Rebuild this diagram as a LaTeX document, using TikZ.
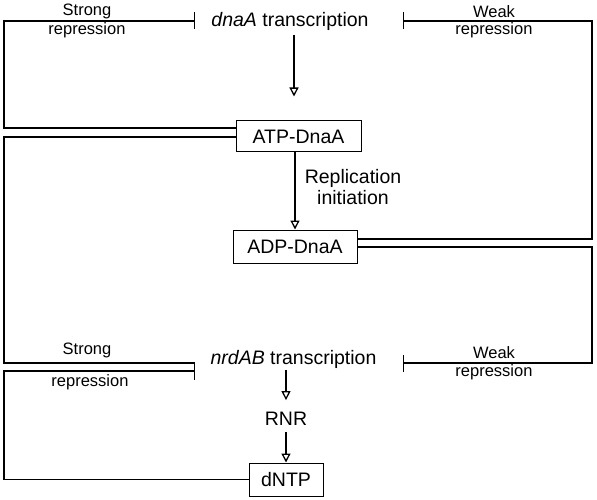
\documentclass[tikz,border=0pt]{standalone}
\usepackage{fontspec}
\setmainfont{Liberation Sans}
\usetikzlibrary{arrows.meta}
\begin{document}
\begin{tikzpicture}[x=1pt,y=-1pt,
  lbl/.style={font=\fontsize{16.5}{19}\selectfont, inner sep=0pt, align=center},
  maintxt/.style={font=\fontsize{19.5}{21}\selectfont, inner sep=0pt, align=center},
  boxn/.style={draw, line width=1pt, font=\fontsize{19.5}{21}\selectfont, inner sep=0pt},
  wire/.style={line width=1.4pt},
  rep/.style={wire, -{Bar[width=17pt]}},
  act/.style={line width=1.3pt, -{Triangle[open,length=9pt,width=9pt]}},
]
\useasboundingbox (0,0) rectangle (597,500);

% main nodes
\node[maintxt] (dnaA) at (290,21) {\textit{dnaA} transcription};
\node[boxn, minimum width=125pt, minimum height=31pt] (ATP) at (298.5,136.5) {ATP-DnaA};
\node[boxn, minimum width=124pt, minimum height=33pt] (ADP) at (295,246.5) {ADP-DnaA};
\node[maintxt] (nrdAB) at (293.5,359) {\textit{nrdAB} transcription};
\node[maintxt] (RNR) at (286,419) {RNR};
\node[boxn, minimum width=74pt, minimum height=33pt] (dNTP) at (286,479.5) {dNTP};
\node[maintxt] (repl) at (353,187) {Replication\\initiation};

% labels
\node[lbl] (s1) at (87,11) {Strong};
\node[lbl] (r1) at (87,30) {repression};
\node[lbl] (w1) at (494,12) {Weak};
\node[lbl] (r2) at (494,30) {repression};
\node[lbl] (s2) at (87,350) {Strong};
\node[lbl] (r3) at (90,382) {repression};
\node[lbl] (w2) at (494,353) {Weak};
\node[lbl] (r4) at (494,372) {repression};

% coordinates
\coordinate (xa) at (294,0);
\coordinate (xb) at (295,0);
\coordinate (xc) at (286,0);
\coordinate (b1) at (195,21);
\coordinate (b2) at (403,21);
\coordinate (b3) at (403,363);
\coordinate (b4) at (195,363);
\coordinate (b5) at (195,371);
\coordinate (c1) at (4,21);
\coordinate (c2) at (592,21);
\coordinate (c3) at (592,363);
\coordinate (c4) at (4,363);
\coordinate (c5) at (4,371);

% activation arrows
\draw[act, shorten <=5pt, shorten >=24pt] (dnaA.south -| xa) -- (ATP.north -| xa);
\draw[act] (ATP.south -| xb) -- (ADP.north -| xb);
\draw[act, shorten <=2pt, shorten >=12pt] (nrdAB.south -| xc) -- (RNR.north -| xc);
\draw[act, shorten <=6pt] (RNR.south -| xc) -- (dNTP.north -| xc);

% repression lines
\draw[rep] (ATP.west |- 0,128) -| (c1) -- (b1);
\draw[rep] (ADP.east |- 0,239) -| (c2) -- (b2);
\draw[rep] (ADP.east |- 0,247) -| (c3) -- (b3);
\draw[wire] (ATP.west |- 0,137) -| (c4) -- (b4);
\draw[rep] (dNTP.west) -| (c5) -- (b5);
\end{tikzpicture}
\end{document}
